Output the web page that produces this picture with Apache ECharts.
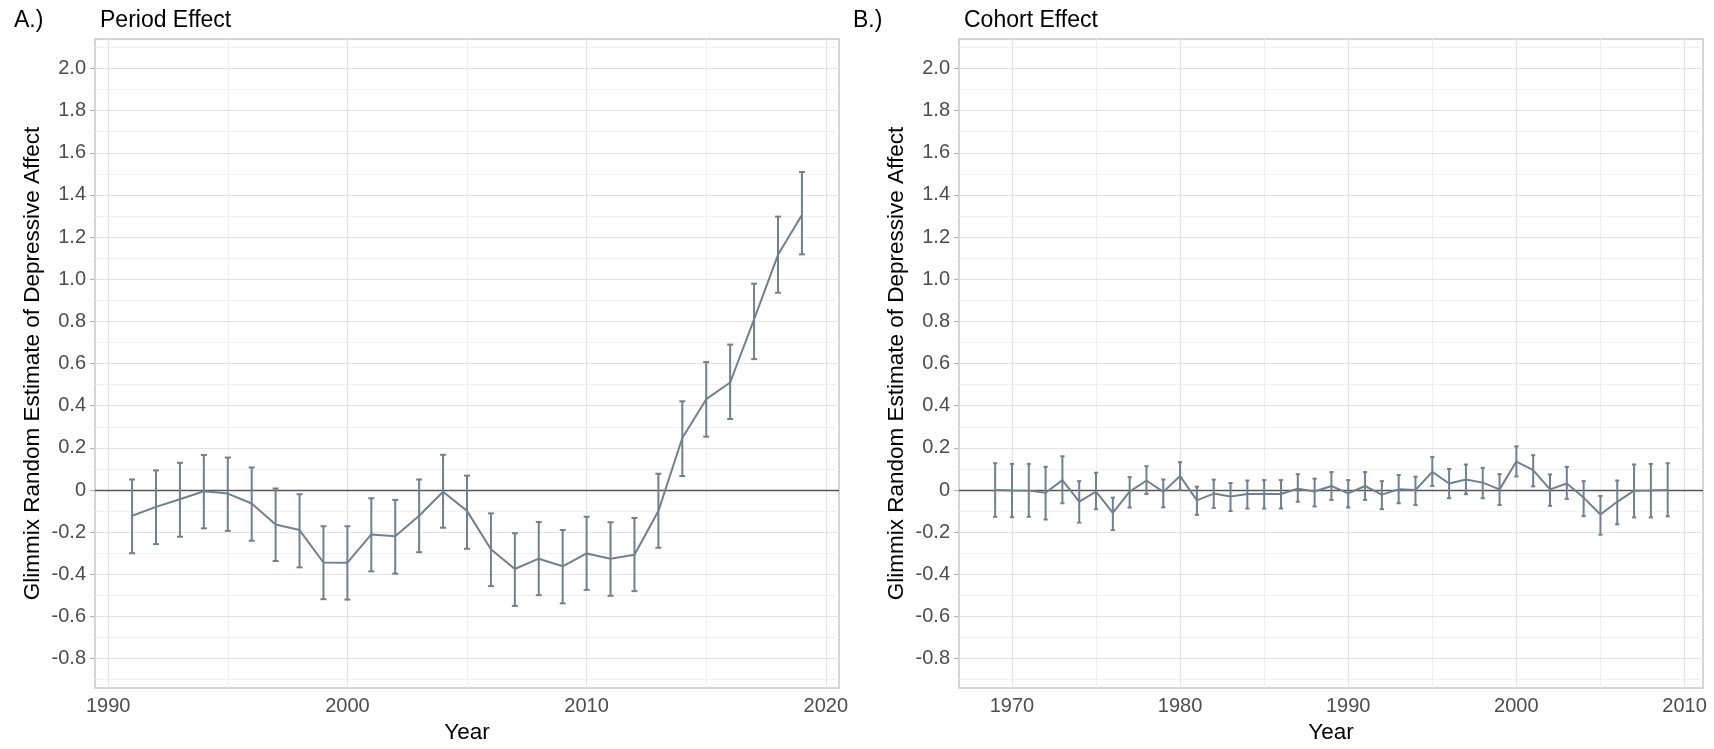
<!DOCTYPE html>
<html style="height: 100%">
<head>
    <meta charset="utf-8">
    <title>Period and Cohort Effect</title>
    <script src="https://cdn.jsdelivr.net/npm/echarts@6/dist/echarts.min.js"></script>
</head>
<body style="height: 100%; margin: 0; background: #fff">
    <div id="container" style="width: 1714px; height: 749px"></div>
    <script type="text/javascript">

        // A.) Period effect
        let periodYears = [1991, 1992, 1993, 1994, 1995, 1996, 1997, 1998, 1999, 2000,
            2001, 2002, 2003, 2004, 2005, 2006, 2007, 2008, 2009, 2010,
            2011, 2012, 2013, 2014, 2015, 2016, 2017, 2018, 2019];
        let periodEst = [-0.122, -0.080, -0.044, -0.006, -0.017, -0.064, -0.164, -0.190, -0.344, -0.345,
            -0.211, -0.219, -0.122, -0.008, -0.099, -0.281, -0.375, -0.326, -0.362, -0.301,
            -0.326, -0.307, -0.100, 0.247, 0.431, 0.510, 0.810, 1.116, 1.305];
        let periodLow = [-0.300, -0.257, -0.222, -0.182, -0.194, -0.241, -0.337, -0.367, -0.518, -0.520,
            -0.386, -0.397, -0.295, -0.179, -0.279, -0.456, -0.550, -0.499, -0.538, -0.474,
            -0.502, -0.480, -0.274, 0.066, 0.253, 0.337, 0.621, 0.936, 1.118];
        let periodHigh = [0.050, 0.093, 0.129, 0.166, 0.154, 0.107, 0.007, -0.020, -0.172, -0.172,
            -0.039, -0.047, 0.050, 0.167, 0.068, -0.111, -0.205, -0.152, -0.190, -0.127,
            -0.153, -0.133, 0.077, 0.421, 0.607, 0.690, 0.979, 1.297, 1.509];

        // B.) Cohort effect
        let cohortYears = [1969, 1970, 1971, 1972, 1973, 1974, 1975, 1976, 1977, 1978,
            1979, 1980, 1981, 1982, 1983, 1984, 1985, 1986, 1987, 1988,
            1989, 1990, 1991, 1992, 1993, 1994, 1995, 1996, 1997, 1998,
            1999, 2000, 2001, 2002, 2003, 2004, 2005, 2006, 2007, 2008, 2009];
        let cohortEst = [0.000, -0.002, -0.003, -0.013, 0.047, -0.055, -0.008, -0.108, -0.008, 0.045,
            -0.009, 0.066, -0.049, -0.017, -0.031, -0.019, -0.019, -0.019, 0.006, -0.007,
            0.019, -0.016, 0.019, -0.022, 0.003, 0.000, 0.086, 0.031, 0.050, 0.035,
            0.003, 0.135, 0.094, 0.003, 0.031, -0.036, -0.116, -0.056, -0.003, -0.002, 0.000];
        let cohortLow = [-0.127, -0.129, -0.127, -0.140, -0.063, -0.155, -0.091, -0.190, -0.083, -0.019,
            -0.082, 0.000, -0.118, -0.085, -0.100, -0.088, -0.088, -0.088, -0.056, -0.078,
            -0.047, -0.083, -0.047, -0.091, -0.063, -0.071, 0.019, -0.039, -0.020, -0.039,
            -0.071, 0.064, 0.017, -0.075, -0.042, -0.124, -0.212, -0.163, -0.130, -0.130, -0.125];
        let cohortHigh = [0.127, 0.124, 0.124, 0.110, 0.160, 0.042, 0.082, -0.036, 0.061, 0.113,
            0.050, 0.132, 0.016, 0.049, 0.033, 0.045, 0.047, 0.047, 0.075, 0.054,
            0.085, 0.047, 0.085, 0.042, 0.071, 0.063, 0.157, 0.100, 0.121, 0.105,
            0.075, 0.207, 0.165, 0.074, 0.110, 0.042, -0.028, 0.045, 0.121, 0.124, 0.127];

        // tick / grid values
        let yMajor = [-0.8, -0.6, -0.4, -0.2, 0, 0.2, 0.4, 0.6, 0.8, 1.0, 1.2, 1.4, 1.6, 1.8, 2.0];
        let yMinor = [-0.9, -0.7, -0.5, -0.3, -0.1, 0.1, 0.3, 0.5, 0.7, 0.9, 1.1, 1.3, 1.5, 1.7, 1.9, 2.1];
        let periodTicks = [1990, 2000, 2010, 2020];
        let periodMinor = [1995, 2005, 2015];
        let cohortTicks = [1970, 1980, 1990, 2000, 2010];
        let cohortMinor = [1975, 1985, 1995, 2005];

        const FONT = 'Liberation Sans, Arial, Helvetica, sans-serif';
        const LINE_COLOR = '#708090';

        function pairs(xs, ys) {
            return xs.map((x, i) => [x, ys[i]]);
        }
        function triples(xs, lo, hi) {
            return xs.map((x, i) => [x, lo[i], hi[i]]);
        }

        function errorBar(params, api) {
            let x = api.value(0), lo = api.value(1), hi = api.value(2);
            let top = api.coord([x, hi]);
            let bot = api.coord([x, lo]);
            let l = api.coord([x - 0.125, hi])[0];
            let r = api.coord([x + 0.125, hi])[0];
            let st = { stroke: LINE_COLOR, lineWidth: 2 };
            return {
                type: 'group',
                children: [
                    { type: 'line', shape: { x1: top[0], y1: top[1], x2: bot[0], y2: bot[1] }, style: st },
                    { type: 'line', shape: { x1: l, y1: top[1], x2: r, y2: top[1] }, style: st },
                    { type: 'line', shape: { x1: l, y1: bot[1], x2: r, y2: bot[1] }, style: st }
                ]
            };
        }

        // panel grid lines drawn as mark lines, kept under the data
        function gridLines(idx, xMajor, xMinor) {
            let data = [];
            yMinor.forEach(v => data.push({ yAxis: v, lineStyle: { color: '#f0f0f0', width: 1 } }));
            xMinor.forEach(v => data.push({ xAxis: v, lineStyle: { color: '#f0f0f0', width: 1 } }));
            yMajor.forEach(v => data.push({ yAxis: v, lineStyle: { color: '#e3e3e3', width: 1.2 } }));
            xMajor.forEach(v => data.push({ xAxis: v, lineStyle: { color: '#e3e3e3', width: 1.2 } }));
            data.push({ yAxis: 0, lineStyle: { color: '#555555', width: 1.4 } });
            return {
                type: 'line',
                xAxisIndex: idx,
                yAxisIndex: idx,
                data: [],
                z: 1,
                silent: true,
                markLine: {
                    z: 1,
                    silent: true,
                    symbol: ['none', 'none'],
                    label: { show: false },
                    lineStyle: { type: 'solid' },
                    animation: false,
                    data: data
                }
            };
        }

        function xAxisOpt(idx, min, max, ticks) {
            return {
                type: 'value',
                gridIndex: idx,
                min: min,
                max: max,
                name: 'Year',
                nameLocation: 'middle',
                nameGap: 31,
                nameTextStyle: { fontSize: 22.5, color: '#000', fontFamily: FONT },
                axisLine: { show: false },
                splitLine: { show: false },
                axisTick: { show: true, length: 5, customValues: ticks, lineStyle: { color: '#b3b3b3' } },
                axisLabel: {
                    customValues: ticks, margin: 8, fontSize: 20, color: '#4d4d4d', fontFamily: FONT,
                    formatter: v => String(Math.round(v))
                }
            };
        }

        function yAxisOpt(idx) {
            return {
                type: 'value',
                gridIndex: idx,
                min: -0.94,
                max: 2.14,
                name: 'Glimmix Random Estimate of Depressive Affect',
                nameLocation: 'middle',
                nameGap: 51,
                nameTextStyle: { fontSize: 22.5, color: '#000', fontFamily: FONT },
                axisLine: { show: false },
                splitLine: { show: false },
                axisTick: { show: true, length: 5, customValues: yMajor, lineStyle: { color: '#b3b3b3' } },
                axisLabel: {
                    customValues: yMajor, margin: 9, fontSize: 20, color: '#4d4d4d', fontFamily: FONT,
                    formatter: v => Math.abs(v) < 1e-9 ? '0' : v.toFixed(1)
                }
            };
        }

        let titleStyle = { fontSize: 23, fontWeight: 'normal', color: '#000', fontFamily: FONT };

        let dom = document.getElementById('container');
        let chart = echarts.init(dom, null, { renderer: 'canvas' });
        chart.setOption({
            animation: false,
            backgroundColor: '#ffffff',
            title: [
                { text: 'A.)', left: 9, top: 4, textStyle: titleStyle },
                { text: 'Period Effect', left: 95, top: 4, textStyle: titleStyle },
                { text: 'B.)', left: 848, top: 4, textStyle: titleStyle },
                { text: 'Cohort Effect', left: 959, top: 4, textStyle: titleStyle }
            ],
            grid: [
                { left: 95, top: 39, width: 744, height: 654, show: true, borderColor: '#c8c8c8', borderWidth: 1.5, backgroundColor: 'transparent' },
                { left: 959, top: 39, width: 744, height: 654, show: true, borderColor: '#c8c8c8', borderWidth: 1.5, backgroundColor: 'transparent' }
            ],
            xAxis: [
                xAxisOpt(0, 1989.45, 2020.55, periodTicks),
                xAxisOpt(1, 1966.85, 2011.1, cohortTicks)
            ],
            yAxis: [yAxisOpt(0), yAxisOpt(1)],
            series: [
                gridLines(0, periodTicks, periodMinor),
                gridLines(1, cohortTicks, cohortMinor),
                {
                    type: 'custom', xAxisIndex: 0, yAxisIndex: 0, z: 10,
                    renderItem: errorBar,
                    encode: { x: 0, y: [1, 2] },
                    data: triples(periodYears, periodLow, periodHigh)
                },
                {
                    type: 'line', xAxisIndex: 0, yAxisIndex: 0, z: 11,
                    showSymbol: false, symbol: 'none',
                    lineStyle: { color: LINE_COLOR, width: 2 },
                    data: pairs(periodYears, periodEst)
                },
                {
                    type: 'custom', xAxisIndex: 1, yAxisIndex: 1, z: 10,
                    renderItem: errorBar,
                    encode: { x: 0, y: [1, 2] },
                    data: triples(cohortYears, cohortLow, cohortHigh)
                },
                {
                    type: 'line', xAxisIndex: 1, yAxisIndex: 1, z: 11,
                    showSymbol: false, symbol: 'none',
                    lineStyle: { color: LINE_COLOR, width: 2 },
                    data: pairs(cohortYears, cohortEst)
                }
            ]
        });

    </script>
</body>
</html>
